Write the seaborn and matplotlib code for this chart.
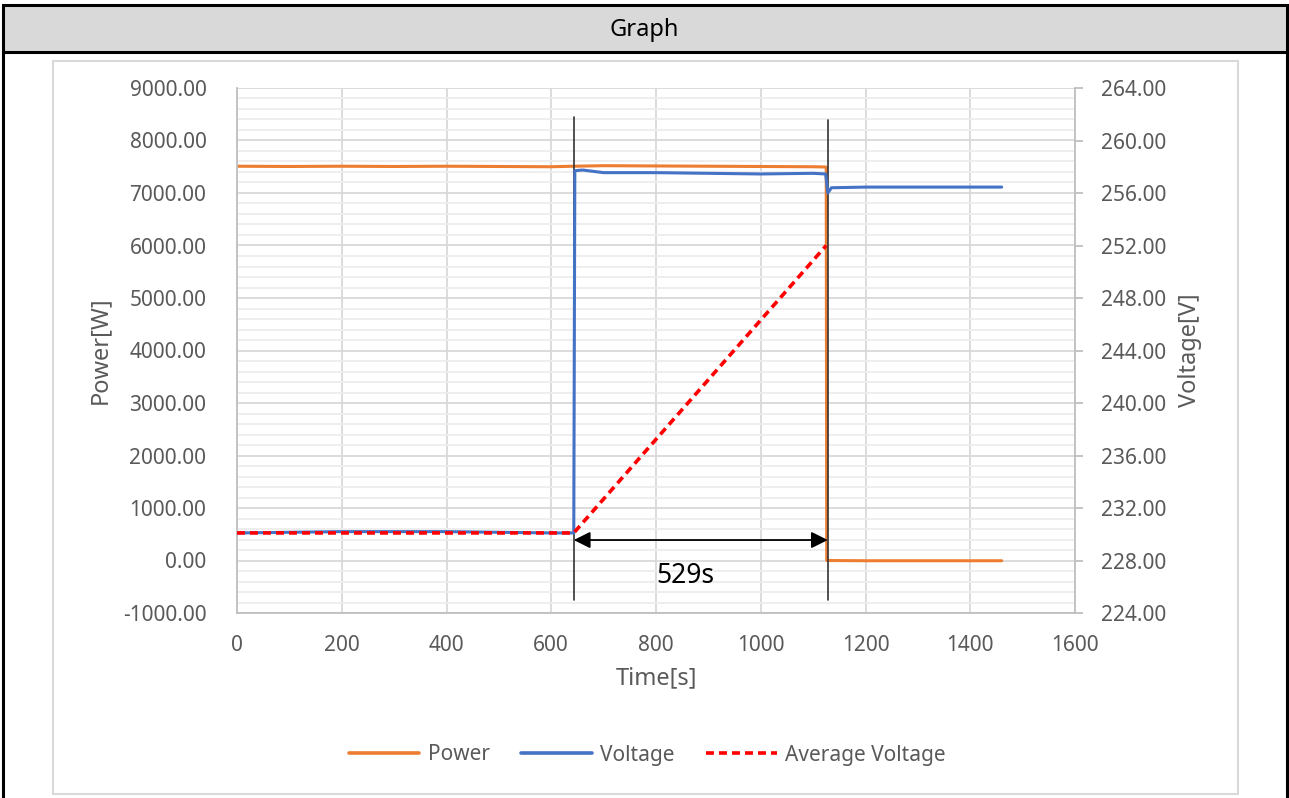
import numpy as np
import pandas as pd
import matplotlib
matplotlib.use("Agg")
import matplotlib.pyplot as plt
from matplotlib.patches import Rectangle
from matplotlib.lines import Line2D
from matplotlib.ticker import MultipleLocator, FormatStrFormatter
import seaborn as sns

# values
power_t = [0, 100, 200, 300, 400, 500, 600, 643, 700, 800, 900, 1000, 1100, 1125, 1126, 1200, 1300, 1400, 1460]
power_w = [7510, 7505, 7510, 7505, 7510, 7505, 7500, 7510, 7520, 7515, 7510, 7505, 7500, 7495, 0, -5, -5, -5, -5]

voltage_t = [0, 100, 200, 300, 400, 500, 600, 643, 645, 660, 700, 800, 900, 1000, 1100, 1124, 1128, 1135, 1200, 1300, 1400, 1460]
voltage_v = [230.1, 230.15, 230.2, 230.2, 230.2, 230.15, 230.1, 230.1, 257.7, 257.75, 257.55, 257.55, 257.5, 257.45, 257.5, 257.45, 256.0, 256.4, 256.45, 256.45, 256.45, 256.45]

avg_t = [0, 643, 1125]
avg_v = [230.1, 230.1, 252.0]

marker_t = [643, 1128]
span_label = "529s"

ORANGE = "#ED7D31"
BLUE = "#4472C4"
RED = "#FF0000"
GRID = "#D9D9D9"
TXT = "#595959"

sns.set_theme(style="white")
plt.rcParams["font.family"] = ["Noto Sans", "DejaVu Sans"]

fig = plt.figure(figsize=(12.89, 7.98), dpi=100)
W, H = 1289, 798


def fx(px):
    return px / W


def fy(py):
    return 1 - py / H


# outer frame, header and chart box
fig.patches.append(Rectangle((fx(3), fy(52)), fx(1284), 47 / H, transform=fig.transFigure,
                             facecolor="#D9D9D9", edgecolor="none", zorder=0))
fig.patches.append(Rectangle((fx(3), fy(800)), fx(1284), 795 / H, transform=fig.transFigure,
                             facecolor="none", edgecolor="black", lw=2.2, zorder=5))
fig.add_artist(Line2D([fx(3), fx(1287)], [fy(52), fy(52)], transform=fig.transFigure, color="black", lw=2.2))
fig.patches.append(Rectangle((fx(53), fy(794)), fx(1185), 733 / H, transform=fig.transFigure,
                             facecolor="none", edgecolor=GRID, lw=1.5, zorder=1))
fig.text(0.5, fy(30), "Graph", ha="center", va="center", fontsize=17, color="black")

ax = fig.add_axes([fx(237), fy(613), fx(838), 525 / H])
ax2 = ax.twinx()

sns.lineplot(x=power_t, y=power_w, ax=ax, color=ORANGE, lw=2.2, estimator=None, sort=False, label="Power", legend=False)
sns.lineplot(x=voltage_t, y=voltage_v, ax=ax2, color=BLUE, lw=2.2, estimator=None, sort=False, label="Voltage", legend=False)
sns.lineplot(x=avg_t, y=avg_v, ax=ax2, color=RED, lw=2.6, estimator=None, sort=False,
             label="Average Voltage", legend=False)
ax2.get_lines()[-1].set_dashes([2.2, 1.4])

ax.set_xlim(0, 1600)
ax.set_ylim(-1000, 9000)
ax2.set_ylim(224, 264)
ax.xaxis.set_major_locator(MultipleLocator(200))
ax.yaxis.set_major_locator(MultipleLocator(1000))
ax.yaxis.set_minor_locator(MultipleLocator(200))
ax2.yaxis.set_major_locator(MultipleLocator(4))
ax.yaxis.set_major_formatter(FormatStrFormatter("%.2f"))
ax2.yaxis.set_major_formatter(FormatStrFormatter("%.2f"))

ax.grid(which="major", color=GRID, lw=1.3)
ax.grid(which="minor", axis="y", color="#EDEDED", lw=1.3)
ax.set_axisbelow(True)
ax2.grid(False)

for a in (ax, ax2):
    for s in a.spines.values():
        s.set_visible(False)
ax.spines["left"].set_visible(True)
ax.spines["bottom"].set_visible(True)
ax.spines["left"].set_color("#BFBFBF")
ax.spines["bottom"].set_color("#BFBFBF")
ax2.spines["right"].set_visible(True)
ax2.spines["right"].set_color("#BFBFBF")
for s in ("left", "bottom", "right"):
    ax.spines[s].set_linewidth(1.3)
    ax2.spines[s].set_linewidth(1.3)

ax.tick_params(axis="y", which="both", length=0, pad=22, labelsize=15, labelcolor=TXT)
ax.tick_params(axis="x", length=0, pad=16, labelsize=15, labelcolor=TXT)
ax2.tick_params(axis="y", length=6, width=1.3, color="#BFBFBF", pad=13, labelsize=15, labelcolor=TXT)

ax.set_xlabel("Time[s]", fontsize=17, color=TXT, labelpad=7)
ax.set_ylabel("Power[W]", fontsize=17, color=TXT, labelpad=8)
ax2.set_ylabel("Voltage[V]", fontsize=17, color=TXT, labelpad=8)

# span annotation
for t, top in zip(marker_t, [8450, 8390]):
    ax.plot([t, t], [top, -760], color="#333333", lw=1.2, zorder=6)
ax.annotate("", xy=(marker_t[0], 390), xytext=(marker_t[1], 390),
            arrowprops=dict(arrowstyle="<|-|>", color="black", lw=1.3, mutation_scale=25, shrinkA=0, shrinkB=0),
            zorder=7)
ax.text(sum(marker_t) / 2 - 30, -300, span_label, ha="center", va="center", fontsize=19, color="black")

handles = [Line2D([], [], color=ORANGE, lw=2.6),
           Line2D([], [], color=BLUE, lw=2.6),
           Line2D([], [], color=RED, lw=2.6, dashes=[2.2, 1.4])]
fig.legend(handles, ["Power", "Voltage", "Average Voltage"], loc="center", bbox_to_anchor=(0.502, fy(755)),
           ncol=3, frameon=False, fontsize=15, labelcolor=TXT, handlelength=3.4, handletextpad=0.4,
           columnspacing=1.5)

fig.savefig("out.png", dpi=100)
